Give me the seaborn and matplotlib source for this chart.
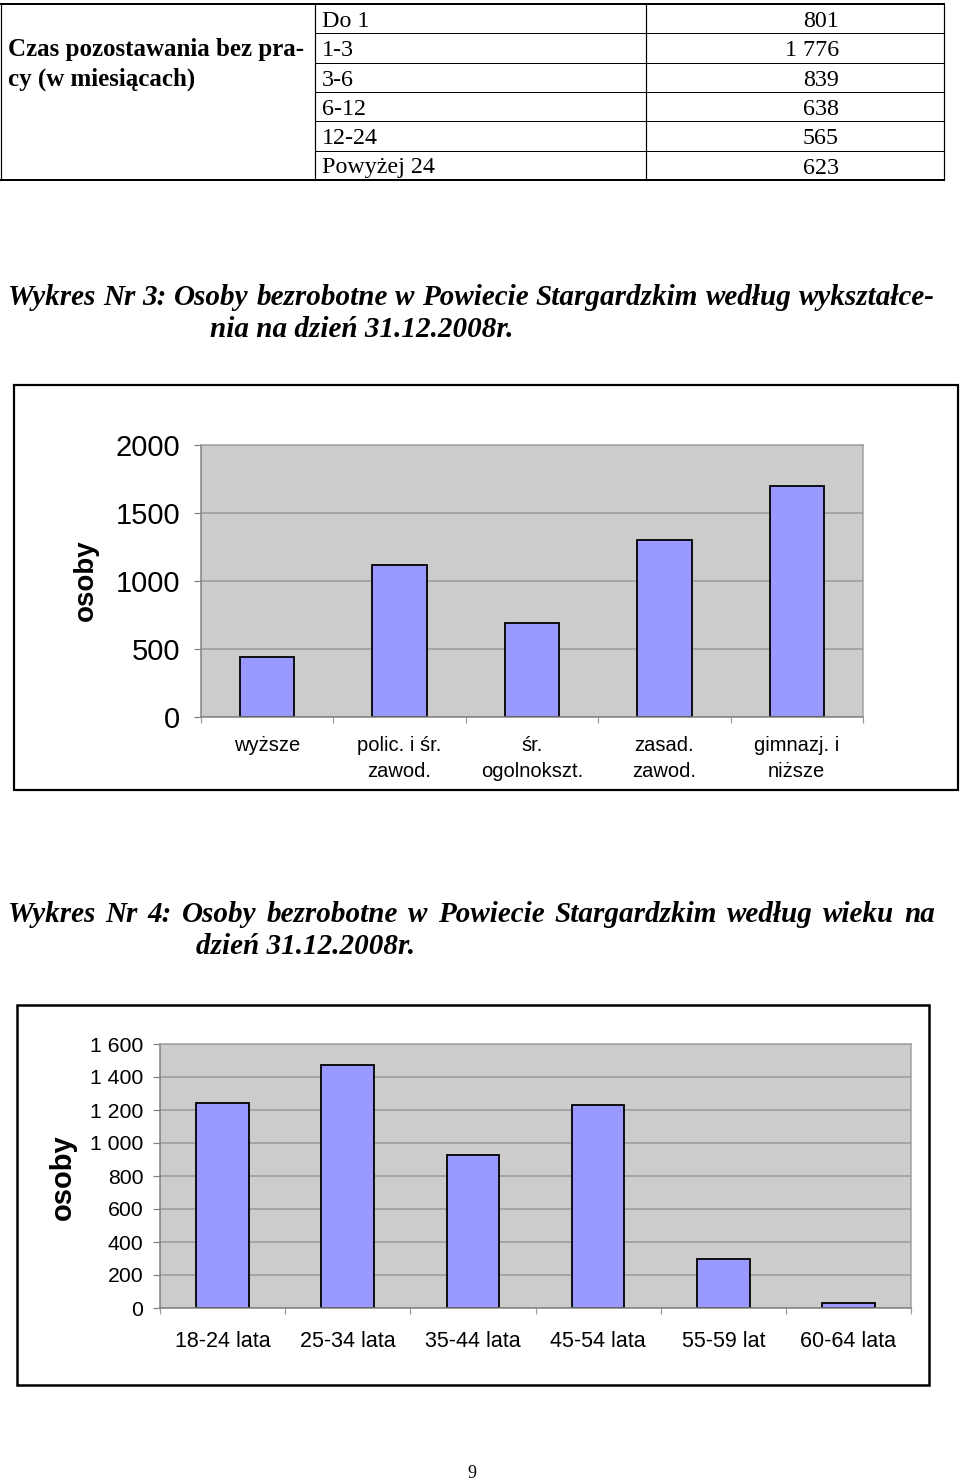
import matplotlib
matplotlib.use("Agg")
import matplotlib.pyplot as plt
from matplotlib.lines import Line2D
from matplotlib.patches import Rectangle
import seaborn as sns

# ---------------- data ----------------
table_header = ["Czas pozostawania bez pra-", "cy (w miesiącach)"]
table_periods = ["Do 1", "1-3", "3-6", "6-12", "12-24", "Powyżej 24"]
table_counts = ["801", "1 776", "839", "638", "565", "623"]

edu_title = ["Wykres Nr 3: Osoby bezrobotne w Powiecie Stargardzkim według wykształce-",
             "nia na dzień 31.12.2008r."]
edu_categories = ["wyższe", "polic. i śr.\nzawod.", "śr.\nogolnokszt.", "zasad.\nzawod.", "gimnazj. i\nniższe"]
edu_values = [441, 1118, 690, 1301, 1698]
edu_yticks = [0, 500, 1000, 1500, 2000]
edu_yticklabels = ["0", "500", "1000", "1500", "2000"]

age_title = ["Wykres Nr 4: Osoby bezrobotne w Powiecie Stargardzkim według wieku na",
             "dzień 31.12.2008r."]
age_categories = ["18-24 lata", "25-34 lata", "35-44 lata", "45-54 lata", "55-59 lat", "60-64 lata"]
age_values = [1243, 1474, 929, 1231, 300, 33]
age_yticks = [0, 200, 400, 600, 800, 1000, 1200, 1400, 1600]
age_yticklabels = ["0", "200", "400", "600", "800", "1 000", "1 200", "1 400", "1 600"]

ylabel_text = "osoby"
page_number = "9"

# ---------------- layout helpers ----------------
W, H = 960, 1483
plt.rcParams["font.family"] = ["Liberation Sans", "DejaVu Sans"]
fig = plt.figure(figsize=(W / 100, H / 100), dpi=100)
fig.patch.set_facecolor("white")


def fx(px):
    return px / W


def fy(py):
    return 1 - py / H


def pt(px):
    return px * 72 / 100


SERIF = ["Liberation Serif", "DejaVu Serif"]


def hline(x0, x1, y, lw=1.0):
    fig.add_artist(Line2D([fx(x0), fx(x1)], [fy(y), fy(y)], color="black", lw=pt(lw)))


def vline(x, y0, y1, lw=1.0):
    fig.add_artist(Line2D([fx(x), fx(x)], [fy(y0), fy(y1)], color="black", lw=pt(lw)))


# ---------------- table ----------------
row_top = 4
row_h = 29.3
rows_bottom = row_top + row_h * len(table_periods)
hline(1, 944, row_top, 2)
hline(1, 944, rows_bottom, 2)
for i in range(1, len(table_periods)):
    hline(315, 944, row_top + row_h * i, 1)
for x in (1, 315, 646, 944):
    vline(x, row_top, rows_bottom, 1.2)

tfs = 17.3
for i, (p, c) in enumerate(zip(table_periods, table_counts)):
    base = row_top + row_h * i + 23
    fig.text(fx(322), fy(base), p, family=SERIF, fontsize=tfs, va="baseline", ha="left")
    fig.text(fx(839), fy(base), c, family=SERIF, fontsize=tfs, va="baseline", ha="right")
for j, line in enumerate(table_header):
    base = row_top + row_h * (j + 1) + 23
    fig.text(fx(8), fy(base), line, family=SERIF, fontsize=18, fontweight="bold",
             va="baseline", ha="left")

# ---------------- captions ----------------
renderer = fig.canvas.get_renderer()


def justified(text, x0, x1, base, fs):
    words = text.split(" ")
    objs = [fig.text(0, 0, w, family=SERIF, fontsize=fs, fontweight="bold",
                     fontstyle="italic", va="baseline", ha="left") for w in words]
    widths = [o.get_window_extent(renderer).width for o in objs]
    gap = (x1 - x0 - sum(widths)) / max(len(words) - 1, 1)
    x = x0
    for o, w in zip(objs, widths):
        o.set_position((fx(x), fy(base)))
        x += w + gap


def plain(text, x0, base, fs):
    fig.text(fx(x0), fy(base), text, family=SERIF, fontsize=fs, fontweight="bold",
             fontstyle="italic", va="baseline", ha="left")


cfs = 21
justified(edu_title[0], 8, 935, 305, cfs)
plain(edu_title[1], 210, 337, cfs)
justified(age_title[0], 8, 935, 922, cfs)
plain(age_title[1], 196, 954, cfs)

# ---------------- chart frames ----------------
fig.add_artist(Rectangle((fx(14), fy(790)), fx(958) - fx(14), fy(385) - fy(790),
                         fill=False, edgecolor="black", lw=pt(2.2)))
fig.add_artist(Rectangle((fx(17), fy(1385)), fx(929) - fx(17), fy(1005) - fy(1385),
                         fill=False, edgecolor="black", lw=pt(2.5)))


def style_axes(ax, n, yticks, yticklabels, ymax, ytick_fs, xtick_fs, ypad, xpad):
    ax.set_facecolor("#CCCCCC")
    ax.set_xlim(-0.5, n - 0.5)
    ax.set_ylim(0, ymax)
    ax.set_yticks(yticks)
    ax.set_yticklabels(yticklabels)
    ax.set_xlabel("")
    ax.set_ylabel("")
    ax.yaxis.grid(True, color="#999999", lw=pt(1.5))
    ax.xaxis.grid(False)
    ax.set_axisbelow(True)
    for s in ax.spines.values():
        s.set_color("#A0A0A0")
        s.set_linewidth(pt(1.5))
    ax.spines["left"].set_color("#808080")
    ax.spines["bottom"].set_color("#808080")
    ax.tick_params(axis="y", length=pt(7), width=pt(1.2), color="#808080",
                   labelsize=ytick_fs, pad=ypad, direction="out")
    ax.tick_params(axis="x", which="major", length=0, labelsize=xtick_fs, pad=xpad)
    ax.set_xticks([i - 0.5 for i in range(n + 1)], minor=True)
    ax.tick_params(axis="x", which="minor", length=pt(6), width=pt(1.2), color="#999999",
                   direction="out")


# ---------------- chart 3 ----------------
ax3 = fig.add_axes([fx(201), fy(717), fx(863) - fx(201), fy(445) - fy(717)])
sns.barplot(x=edu_categories, y=edu_values, ax=ax3, color="#9999FF", saturation=1,
            edgecolor="black", linewidth=pt(1.8), width=0.41)
style_axes(ax3, len(edu_categories), edu_yticks, edu_yticklabels, 2000, 21, 14.5, 10, 14)
for lab in ax3.get_xticklabels():
    lab.set_linespacing(1.45)
fig.text(fx(86), fy(580), ylabel_text, rotation=90, fontsize=20, fontweight="bold",
         ha="center", va="center")

# ---------------- chart 4 ----------------
ax4 = fig.add_axes([fx(160), fy(1308), fx(911) - fx(160), fy(1044) - fy(1308)])
sns.barplot(x=age_categories, y=age_values, ax=ax4, color="#9999FF", saturation=1,
            edgecolor="black", linewidth=pt(1.8), width=0.42)
style_axes(ax4, len(age_categories), age_yticks, age_yticklabels, 1600, 15.3, 15.5, 7, 16.5)
fig.text(fx(63), fy(1177), ylabel_text, rotation=90, fontsize=21, fontweight="bold",
         ha="center", va="center")

# ---------------- page number ----------------
fig.text(fx(472), fy(1474), page_number, family=SERIF, fontsize=13, ha="center", va="center")

fig.savefig("out.png", dpi=100, facecolor="white")
